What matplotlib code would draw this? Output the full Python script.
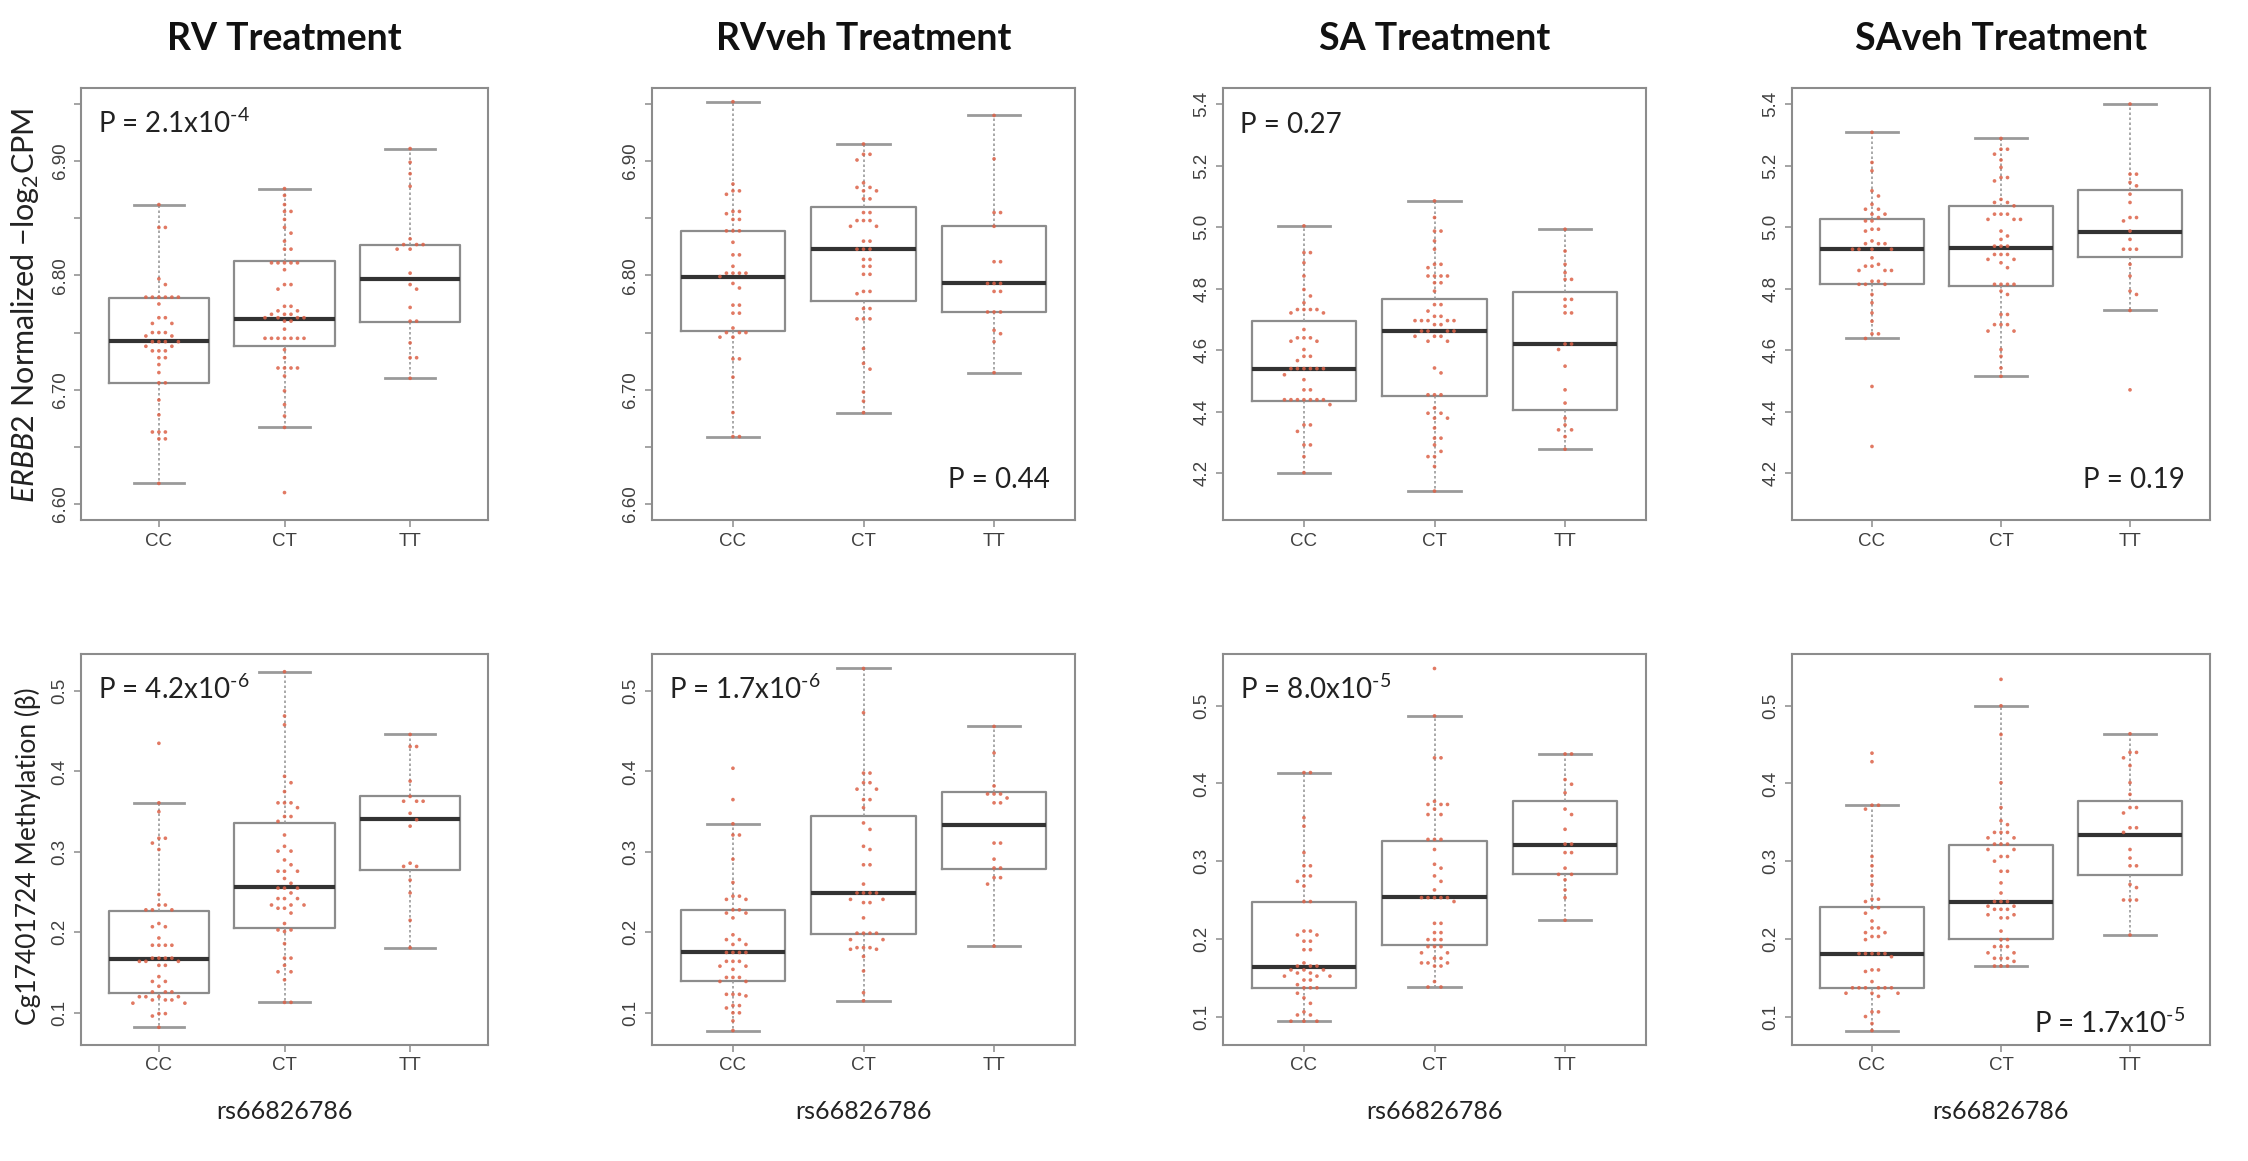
import matplotlib
matplotlib.use("Agg")
import matplotlib.pyplot as plt
import numpy as np

plt.rcParams["font.family"] = ["Liberation Sans", "DejaVu Sans"]
plt.rcParams["mathtext.fontset"] = "custom"
plt.rcParams["mathtext.rm"] = "Lato"
plt.rcParams["mathtext.it"] = "Lato:italic"
plt.rcParams["mathtext.bf"] = "Lato:bold"

# ---------------------------------------------------------------- data
GENOTYPES = ["CC", "CT", "TT"]
TITLES = ["RV Treatment", "RVveh Treatment", "SA Treatment", "SAveh Treatment"]
SNP = "rs66826786"
EXPR_LABEL = r"$\mathit{ERBB2}$ Normalized $-$log$_2$CPM"
METH_LABEL = "Cg17401724 Methylation (\u03b2)"

# box stats per genotype: (lower whisker, Q1, median, Q3, upper whisker)
RV_EXPR_BOX = [(6.618, 6.706, 6.743, 6.780, 6.862),
               (6.667, 6.738, 6.762, 6.813, 6.876),
               (6.710, 6.759, 6.797, 6.827, 6.911)]
RVVEH_EXPR_BOX = [(6.659, 6.751, 6.799, 6.839, 6.952),
                  (6.680, 6.778, 6.823, 6.860, 6.915),
                  (6.715, 6.768, 6.793, 6.843, 6.940)]
SA_EXPR_BOX = [(4.202, 4.436, 4.540, 4.694, 5.004),
               (4.142, 4.452, 4.662, 4.767, 5.085),
               (4.278, 4.406, 4.620, 4.789, 4.993)]
SAVEH_EXPR_BOX = [(4.638, 4.816, 4.928, 5.025, 5.308),
                  (4.515, 4.808, 4.933, 5.067, 5.288),
                  (4.729, 4.903, 4.985, 5.120, 5.400)]
RV_METH_BOX = [(0.082, 0.125, 0.167, 0.227, 0.361),
               (0.113, 0.206, 0.256, 0.336, 0.524),
               (0.181, 0.277, 0.341, 0.369, 0.446)]
RVVEH_METH_BOX = [(0.078, 0.139, 0.175, 0.228, 0.335),
                  (0.115, 0.198, 0.249, 0.345, 0.528),
                  (0.183, 0.279, 0.334, 0.374, 0.456)]
SA_METH_BOX = [(0.094, 0.137, 0.164, 0.248, 0.414),
               (0.138, 0.192, 0.254, 0.326, 0.487),
               (0.224, 0.283, 0.321, 0.377, 0.438)]
SAVEH_METH_BOX = [(0.082, 0.137, 0.181, 0.241, 0.372),
                  (0.165, 0.200, 0.248, 0.321, 0.500),
                  (0.205, 0.282, 0.334, 0.377, 0.464)]

# individual samples per genotype
RV_EXPR_CC = [6.862, 6.842, 6.842, 6.797, 6.792, 6.781, 6.781, 6.781, 6.781, 6.781, 6.781,
              6.775, 6.763, 6.763, 6.758, 6.758, 6.750, 6.750, 6.750, 6.747, 6.747, 6.742,
              6.742, 6.742, 6.742, 6.738, 6.738, 6.734, 6.734, 6.734, 6.728, 6.728, 6.722,
              6.715, 6.706, 6.706, 6.691, 6.678, 6.663, 6.663, 6.663, 6.657, 6.657, 6.618]
RV_EXPR_CT = [6.876, 6.870, 6.862, 6.856, 6.856, 6.849, 6.842, 6.837, 6.830, 6.823, 6.823,
              6.811, 6.811, 6.811, 6.811, 6.811, 6.805, 6.792, 6.792, 6.788, 6.773, 6.773,
              6.769, 6.769, 6.766, 6.766, 6.766, 6.763, 6.763, 6.763, 6.763, 6.760, 6.760,
              6.753, 6.745, 6.745, 6.745, 6.745, 6.745, 6.745, 6.745, 6.735, 6.728, 6.719,
              6.719, 6.719, 6.719, 6.712, 6.699, 6.687, 6.677, 6.667, 6.610]
RV_EXPR_TT = [6.911, 6.899, 6.889, 6.878, 6.832, 6.827, 6.827, 6.827, 6.823, 6.823, 6.802,
              6.792, 6.788, 6.772, 6.760, 6.760, 6.741, 6.728, 6.728, 6.710]

RVVEH_EXPR_CC = [6.952, 6.880, 6.874, 6.874, 6.871, 6.856, 6.856, 6.854, 6.849, 6.849, 6.839,
                 6.839, 6.839, 6.829, 6.818, 6.818, 6.808, 6.802, 6.802, 6.802, 6.802, 6.799,
                 6.793, 6.789, 6.774, 6.774, 6.767, 6.767, 6.754, 6.750, 6.750, 6.750, 6.746,
                 6.746, 6.727, 6.727, 6.711, 6.680, 6.659, 6.659]
RVVEH_EXPR_CT = [6.915, 6.906, 6.906, 6.901, 6.881, 6.877, 6.877, 6.874, 6.874, 6.867, 6.867,
                 6.855, 6.855, 6.848, 6.848, 6.848, 6.843, 6.843, 6.830, 6.830, 6.823, 6.823,
                 6.823, 6.814, 6.814, 6.808, 6.808, 6.801, 6.801, 6.786, 6.786, 6.784, 6.771,
                 6.771, 6.762, 6.762, 6.762, 6.736, 6.723, 6.718, 6.698, 6.690, 6.680]
RVVEH_EXPR_TT = [6.940, 6.902, 6.855, 6.855, 6.843, 6.812, 6.812, 6.793, 6.793, 6.793, 6.786,
                 6.786, 6.768, 6.768, 6.768, 6.752, 6.749, 6.742, 6.715]

SA_EXPR_CC = [5.004, 4.917, 4.917, 4.884, 4.841, 4.797, 4.776, 4.754, 4.732, 4.732, 4.732,
              4.732, 4.721, 4.721, 4.667, 4.640, 4.640, 4.640, 4.629, 4.629, 4.602, 4.580,
              4.580, 4.566, 4.540, 4.540, 4.540, 4.540, 4.540, 4.540, 4.520, 4.504, 4.471,
              4.471, 4.439, 4.439, 4.439, 4.439, 4.439, 4.439, 4.439, 4.423, 4.357, 4.357,
              4.336, 4.292, 4.292, 4.254, 4.202]
SA_EXPR_CT = [5.085, 5.031, 4.987, 4.987, 4.955, 4.928, 4.879, 4.879, 4.868, 4.841, 4.841,
              4.841, 4.841, 4.819, 4.819, 4.792, 4.748, 4.748, 4.727, 4.710, 4.710, 4.696,
              4.696, 4.696, 4.696, 4.696, 4.683, 4.683, 4.662, 4.662, 4.662, 4.662, 4.645,
              4.645, 4.645, 4.629, 4.629, 4.542, 4.526, 4.455, 4.455, 4.455, 4.412, 4.395,
              4.395, 4.379, 4.379, 4.347, 4.314, 4.314, 4.292, 4.271, 4.254, 4.254, 4.222,
              4.142]
SA_EXPR_TT = [4.993, 4.922, 4.879, 4.852, 4.830, 4.830, 4.765, 4.765, 4.743, 4.721, 4.721,
              4.620, 4.620, 4.602, 4.548, 4.471, 4.428, 4.379, 4.357, 4.341, 4.341, 4.319,
              4.278]

SAVEH_EXPR_CC = [5.308, 5.210, 5.183, 5.118, 5.101, 5.074, 5.058, 5.058, 5.042, 5.042, 5.031,
                 5.020, 5.020, 4.993, 4.993, 4.987, 4.955, 4.946, 4.946, 4.946, 4.928, 4.928,
                 4.928, 4.928, 4.900, 4.879, 4.873, 4.873, 4.859, 4.859, 4.859, 4.824, 4.824,
                 4.814, 4.814, 4.814, 4.781, 4.754, 4.721, 4.694, 4.653, 4.653, 4.638, 4.482,
                 4.287]
SAVEH_EXPR_CT = [5.288, 5.253, 5.253, 5.237, 5.218, 5.194, 5.161, 5.161, 5.150, 5.090, 5.080,
                 5.080, 5.069, 5.042, 5.042, 5.042, 5.025, 5.025, 5.025, 4.987, 4.971, 4.960,
                 4.938, 4.938, 4.938, 4.911, 4.911, 4.911, 4.895, 4.895, 4.884, 4.868, 4.814,
                 4.814, 4.814, 4.814, 4.792, 4.781, 4.716, 4.716, 4.683, 4.683, 4.683, 4.662,
                 4.662, 4.602, 4.580, 4.542, 4.515]
SAVEH_EXPR_TT = [5.400, 5.172, 5.172, 5.145, 5.134, 5.107, 5.080, 5.031, 5.031, 5.020, 4.987,
                 4.960, 4.928, 4.928, 4.928, 4.879, 4.841, 4.792, 4.781, 4.729, 4.471]

RV_METH_CC = [0.435, 0.361, 0.350, 0.317, 0.317, 0.311, 0.303, 0.247, 0.234, 0.234, 0.228,
              0.228, 0.228, 0.211, 0.207, 0.207, 0.193, 0.184, 0.184, 0.184, 0.184, 0.168,
              0.168, 0.168, 0.168, 0.164, 0.164, 0.164, 0.159, 0.159, 0.145, 0.139, 0.139,
              0.133, 0.126, 0.126, 0.126, 0.120, 0.120, 0.120, 0.120, 0.116, 0.116, 0.116,
              0.112, 0.112, 0.099, 0.099, 0.096, 0.082]
RV_METH_CT = [0.524, 0.469, 0.458, 0.394, 0.386, 0.375, 0.361, 0.361, 0.361, 0.355, 0.344,
              0.344, 0.338, 0.321, 0.307, 0.301, 0.301, 0.290, 0.284, 0.276, 0.276, 0.276,
              0.267, 0.261, 0.255, 0.255, 0.255, 0.249, 0.242, 0.242, 0.242, 0.234, 0.234,
              0.234, 0.230, 0.230, 0.224, 0.211, 0.203, 0.203, 0.201, 0.186, 0.168, 0.168,
              0.159, 0.151, 0.151, 0.141, 0.113, 0.113]
RV_METH_TT = [0.446, 0.431, 0.431, 0.388, 0.369, 0.363, 0.363, 0.363, 0.348, 0.340, 0.332,
              0.286, 0.282, 0.282, 0.265, 0.249, 0.215, 0.181]

RVVEH_METH_CC = [0.404, 0.365, 0.335, 0.321, 0.321, 0.291, 0.262, 0.245, 0.245, 0.241, 0.241,
                 0.228, 0.228, 0.224, 0.224, 0.218, 0.197, 0.191, 0.191, 0.185, 0.185, 0.175,
                 0.175, 0.175, 0.175, 0.164, 0.164, 0.164, 0.158, 0.158, 0.154, 0.144, 0.144,
                 0.144, 0.139, 0.139, 0.123, 0.123, 0.123, 0.121, 0.109, 0.109, 0.106, 0.100,
                 0.100, 0.090, 0.078]
RVVEH_METH_CT = [0.528, 0.473, 0.398, 0.398, 0.386, 0.386, 0.378, 0.378, 0.365, 0.365, 0.355,
                 0.336, 0.328, 0.307, 0.303, 0.284, 0.284, 0.260, 0.249, 0.249, 0.249, 0.249,
                 0.241, 0.241, 0.237, 0.237, 0.218, 0.199, 0.199, 0.199, 0.199, 0.191, 0.191,
                 0.181, 0.181, 0.181, 0.179, 0.179, 0.170, 0.152, 0.125, 0.115]
RVVEH_METH_TT = [0.456, 0.423, 0.382, 0.372, 0.372, 0.372, 0.367, 0.361, 0.361, 0.311, 0.311,
                 0.291, 0.280, 0.280, 0.268, 0.268, 0.260, 0.183]

SA_METH_CC = [0.414, 0.414, 0.356, 0.345, 0.311, 0.294, 0.294, 0.281, 0.281, 0.274, 0.268,
              0.248, 0.248, 0.210, 0.210, 0.205, 0.205, 0.197, 0.197, 0.186, 0.186, 0.169,
              0.165, 0.165, 0.165, 0.160, 0.160, 0.160, 0.156, 0.156, 0.152, 0.152, 0.152,
              0.147, 0.147, 0.141, 0.137, 0.137, 0.137, 0.130, 0.124, 0.117, 0.106, 0.102,
              0.102, 0.094, 0.094, 0.094]
SA_METH_CT = [0.548, 0.487, 0.433, 0.433, 0.377, 0.373, 0.373, 0.373, 0.367, 0.360, 0.360,
              0.328, 0.328, 0.328, 0.315, 0.296, 0.291, 0.281, 0.274, 0.263, 0.253, 0.253,
              0.253, 0.253, 0.253, 0.248, 0.220, 0.220, 0.208, 0.208, 0.199, 0.199, 0.199,
              0.190, 0.190, 0.190, 0.182, 0.182, 0.175, 0.175, 0.169, 0.169, 0.169, 0.165,
              0.165, 0.145, 0.138, 0.138]
SA_METH_TT = [0.438, 0.438, 0.405, 0.399, 0.388, 0.367, 0.360, 0.341, 0.322, 0.322, 0.311,
              0.311, 0.291, 0.283, 0.283, 0.276, 0.263, 0.253, 0.224]

SAVEH_METH_CC = [0.439, 0.428, 0.372, 0.372, 0.367, 0.306, 0.294, 0.281, 0.270, 0.251, 0.251,
                 0.248, 0.240, 0.240, 0.233, 0.223, 0.214, 0.214, 0.208, 0.208, 0.203, 0.203,
                 0.199, 0.181, 0.181, 0.181, 0.181, 0.181, 0.177, 0.160, 0.160, 0.158, 0.145,
                 0.137, 0.137, 0.137, 0.137, 0.137, 0.137, 0.130, 0.130, 0.130, 0.126, 0.106,
                 0.106, 0.100, 0.091, 0.082]
SAVEH_METH_CT = [0.534, 0.500, 0.463, 0.401, 0.369, 0.352, 0.347, 0.337, 0.337, 0.337, 0.330,
                 0.330, 0.322, 0.322, 0.322, 0.315, 0.315, 0.306, 0.306, 0.300, 0.287, 0.287,
                 0.272, 0.259, 0.248, 0.248, 0.248, 0.242, 0.242, 0.238, 0.238, 0.238, 0.231,
                 0.231, 0.227, 0.227, 0.210, 0.199, 0.199, 0.190, 0.190, 0.190, 0.182, 0.182,
                 0.175, 0.175, 0.175, 0.171, 0.165, 0.165, 0.165]
SAVEH_METH_TT = [0.464, 0.440, 0.440, 0.433, 0.423, 0.401, 0.386, 0.369, 0.369, 0.362, 0.343,
                 0.343, 0.337, 0.315, 0.304, 0.294, 0.294, 0.270, 0.266, 0.250, 0.250, 0.250,
                 0.205]

# y ranges (before R's 4% padding) and ticks
RV_EXPR_RANGE = (6.60, 6.95)
SA_EXPR_RANGE = (4.10, 5.40)
RV_METH_RANGE = (0.078, 0.528)
SA_METH_RANGE = (0.082, 0.548)
RV_EXPR_TICKS = [6.60, 6.65, 6.70, 6.75, 6.80, 6.85, 6.90, 6.95]
RV_EXPR_TICKLABELS = ["6.60", "", "6.70", "", "6.80", "", "6.90", ""]
SA_EXPR_TICKS = [4.2, 4.4, 4.6, 4.8, 5.0, 5.2, 5.4]
SA_EXPR_TICKLABELS = ["4.2", "4.4", "4.6", "4.8", "5.0", "5.2", "5.4"]
METH_TICKS = [0.1, 0.2, 0.3, 0.4, 0.5]
METH_TICKLABELS = ["0.1", "0.2", "0.3", "0.4", "0.5"]

P_EXPR = [r"P = 2.1x10$^{\text{-}4}$", "P = 0.44", "P = 0.27", "P = 0.19"]
P_METH = [r"P = 4.2x10$^{\text{-}6}$", r"P = 1.7x10$^{\text{-}6}$",
          r"P = 8.0x10$^{\text{-}5}$", r"P = 1.7x10$^{\text{-}5}$"]

# ---------------------------------------------------------------- layout
W, H = 2248, 1161
COLS = [(81, 488), (652, 1075), (1223, 1646), (1792, 2210)]
ROWS = [(88, 520), (654, 1045)]
GREY = "#8c8c8c"
DOT = "#dc6248"
TEXT_FONT = ["Lato", "DejaVu Sans"]

panels = [
    # row, col, boxes, points, yrange, ticks, ticklabels, p text, p corner
    (0, 0, RV_EXPR_BOX, [RV_EXPR_CC, RV_EXPR_CT, RV_EXPR_TT], RV_EXPR_RANGE,
     RV_EXPR_TICKS, RV_EXPR_TICKLABELS, P_EXPR[0], "tl"),
    (0, 1, RVVEH_EXPR_BOX, [RVVEH_EXPR_CC, RVVEH_EXPR_CT, RVVEH_EXPR_TT], RV_EXPR_RANGE,
     RV_EXPR_TICKS, RV_EXPR_TICKLABELS, P_EXPR[1], "br"),
    (0, 2, SA_EXPR_BOX, [SA_EXPR_CC, SA_EXPR_CT, SA_EXPR_TT], SA_EXPR_RANGE,
     SA_EXPR_TICKS, SA_EXPR_TICKLABELS, P_EXPR[2], "tl"),
    (0, 3, SAVEH_EXPR_BOX, [SAVEH_EXPR_CC, SAVEH_EXPR_CT, SAVEH_EXPR_TT], SA_EXPR_RANGE,
     SA_EXPR_TICKS, SA_EXPR_TICKLABELS, P_EXPR[3], "br"),
    (1, 0, RV_METH_BOX, [RV_METH_CC, RV_METH_CT, RV_METH_TT], RV_METH_RANGE,
     METH_TICKS, METH_TICKLABELS, P_METH[0], "tl"),
    (1, 1, RVVEH_METH_BOX, [RVVEH_METH_CC, RVVEH_METH_CT, RVVEH_METH_TT], RV_METH_RANGE,
     METH_TICKS, METH_TICKLABELS, P_METH[1], "tl"),
    (1, 2, SA_METH_BOX, [SA_METH_CC, SA_METH_CT, SA_METH_TT], SA_METH_RANGE,
     METH_TICKS, METH_TICKLABELS, P_METH[2], "tl"),
    (1, 3, SAVEH_METH_BOX, [SAVEH_METH_CC, SAVEH_METH_CT, SAVEH_METH_TT], SA_METH_RANGE,
     METH_TICKS, METH_TICKLABELS, P_METH[3], "br"),
]


def r_pad(lo, hi):
    """R style axis range: data range plus 4% each side."""
    d = (hi - lo) * 0.04
    return lo - d, hi + d


def swarm_x(ax, center, values, gap=6.5):
    """Push tied values sideways (in pixels) so the dots don't sit on each other."""
    pix = ax.transData.transform(np.column_stack([np.full(len(values), center), values]))
    placed = []
    xs = []
    for px, py in pix:
        step = 0
        found = None
        while found is None:
            offsets = [0.0] if step == 0 else [step * gap, -step * gap]
            for off in offsets:
                if all((qx - px - off) ** 2 + (qy - py) ** 2 >= gap ** 2 for qx, qy in placed):
                    found = off
                    break
            step += 1
        placed.append((px + found, py))
        xs.append(px + found)
    back = ax.transData.inverted().transform(np.column_stack([xs, pix[:, 1]]))
    return back[:, 0]


fig = plt.figure(figsize=(W / 100, H / 100), dpi=100)

for row, col, boxes, points, yrange, ticks, ticklabels, ptext, corner in panels:
    x0, x1 = COLS[col]
    y0, y1 = ROWS[row]
    ax = fig.add_axes([x0 / W, 1 - y1 / H, (x1 - x0) / W, (y1 - y0) / H])
    ax.set_xlim(0.38, 3.62)
    ax.set_ylim(*r_pad(*yrange))

    stats = [dict(whislo=b[0], q1=b[1], med=b[2], q3=b[3], whishi=b[4], fliers=[])
             for b in boxes]
    ax.bxp(stats, positions=[1, 2, 3], widths=0.8, capwidths=0.4, showfliers=False,
           boxprops=dict(color=GREY, lw=1.6),
           whiskerprops=dict(color="#9a9a9a", lw=1.2, ls=(0, (1.5, 1.5))),
           capprops=dict(color="#9a9a9a", lw=2.0),
           medianprops=dict(color="#333333", lw=3.0))

    for i, vals in enumerate(points):
        xs = swarm_x(ax, i + 1, vals)
        ax.scatter(xs, vals, s=7, color=DOT, edgecolors="none", alpha=0.85, zorder=5)

    ax.set_xticks([1, 2, 3])
    ax.set_xticklabels(GENOTYPES)
    ax.set_yticks(ticks)
    ax.set_yticklabels(ticklabels, rotation=90, va="center")
    ax.tick_params(direction="out", length=5, width=1.1, color=GREY,
                   labelsize=13.5, labelcolor="#404040", pad=4)
    for sp in ax.spines.values():
        sp.set_color(GREY)
        sp.set_linewidth(1.5)

    if corner == "tl":
        fig.text((x0 + 17) / W, 1 - (y0 + 45) / H, ptext, ha="left", va="baseline",
                 fontsize=20, family=TEXT_FONT, color="#222222")
    else:
        base = 488 if row == 0 else 1033
        fig.text((x1 - 25) / W, 1 - base / H, ptext, ha="right", va="baseline",
                 fontsize=20, family=TEXT_FONT, color="#222222")

    if row == 0:
        fig.text((x0 + x1) / 2 / W, 1 - 50 / H, TITLES[col], ha="center", va="baseline",
                 fontsize=27, fontweight="bold", family=TEXT_FONT, color="#111111")
    else:
        fig.text((x0 + x1) / 2 / W, 1 - 1119 / H, SNP, ha="center", va="baseline",
                 fontsize=18, family=TEXT_FONT, color="#222222")

fig.text(25 / W, 1 - 305 / H, EXPR_LABEL, rotation=90, ha="center", va="center",
         fontsize=22, family=TEXT_FONT, color="#222222")
fig.text(28 / W, 1 - 856 / H, METH_LABEL, rotation=90, ha="center", va="center",
         fontsize=19, family=TEXT_FONT, color="#222222")

fig.savefig("out.png", dpi=100, facecolor="white")
